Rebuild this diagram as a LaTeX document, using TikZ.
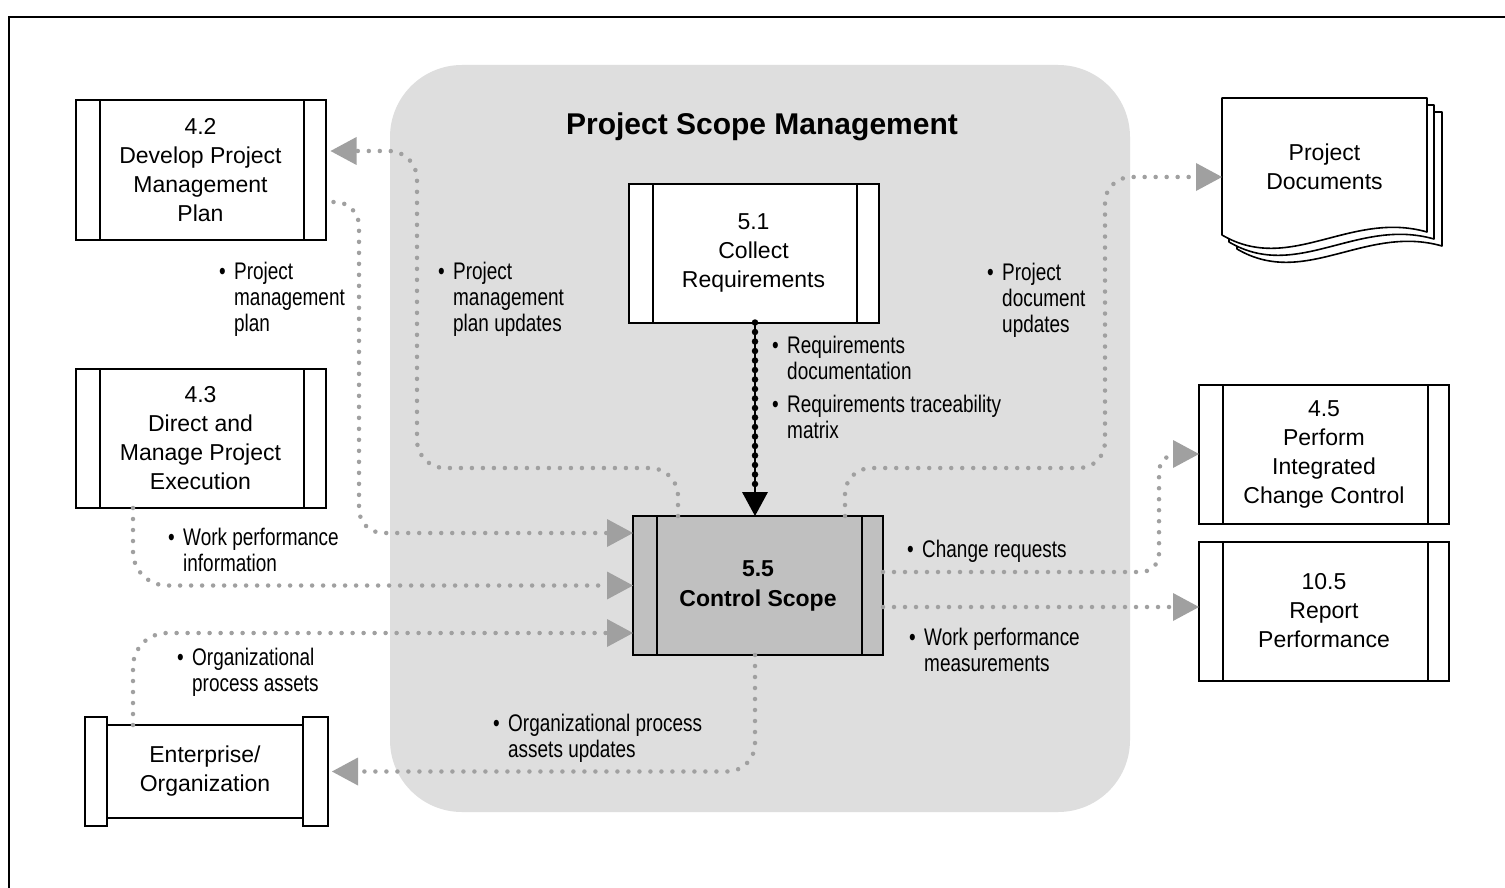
\documentclass[tikz,border=0pt]{standalone}
\usepackage{fontspec}
\setmainfont{Liberation Sans}
\newfontfamily\labelfont[FakeStretch=0.79]{Liberation Sans}
\usetikzlibrary{arrows.meta}

\definecolor{regiongray}{RGB}{222,222,222}
\definecolor{csgray}{RGB}{192,192,192}
\definecolor{dotgray}{RGB}{160,160,160}

% bullet followed by a left-aligned block of lines
\newcommand{\bulletlist}[1]{\makebox[15pt][l]{\textbullet}\begin{tabular}[t]{@{}l@{}}#1\end{tabular}}

\begin{document}
\begin{tikzpicture}[x=1pt,y=-1pt,
  boxfont/.style={font=\fontsize{23}{29}\selectfont},
  proc/.style={draw, line width=2pt, fill=white, minimum width=250pt,
    minimum height=139pt, inner sep=0pt, outer sep=0pt, align=center,
    boxfont,
    path picture={
      \draw[line width=2pt]
        ([xshift=24pt]path picture bounding box.north west) --
        ([xshift=24pt]path picture bounding box.south west);
      \draw[line width=2pt]
        ([xshift=-21.5pt]path picture bounding box.north east) --
        ([xshift=-21.5pt]path picture bounding box.south east);}},
  lbl/.style={anchor=base west, inner sep=0pt,
    font=\labelfont\fontsize{24}{26}\selectfont},
  gdot/.style={draw=dotgray, line width=4.5pt, line cap=round,
    dash pattern=on 0pt off 11pt,
    -{Triangle[length=26pt,width=28pt,line width=0pt]}},
  reqline/.style={draw=black, line width=2.5pt,
    -{Triangle[length=24pt,width=26pt,line width=0pt]},
    postaction={draw=black, line width=6.5pt, dash pattern=on 0pt off 9.5pt,
      line cap=round, shorten >=24pt, -}},
  pageline/.style={draw=black, line width=1.6pt, fill=white, line join=round}
]
\useasboundingbox (0,0) rectangle (1505,888);
\fill[white] (0,0) rectangle (1505,888);

% knowledge-area region
\fill[regiongray, rounded corners=72pt] (390,65) rectangle (1130,812);

% page frame (open to the right and bottom)
\draw[line width=2.5pt] (1512,17) -- (9,17) -- (9,895);

\node[font=\bfseries\fontsize{30}{36}\selectfont, anchor=base, inner sep=0pt]
  (title) at (762,135) {Project Scope Management};

% processes
\node[proc] (pm) at (200.5,170)   {4.2\\Develop Project\\Management\\Plan};
\node[proc] (dm) at (200.5,438.5) {4.3\\Direct and\\Manage Project\\Execution};
\node[proc] (cr) at (753.5,253)   {5.1\\Collect\\Requirements};
\node[proc, fill=csgray, font=\bfseries\fontsize{23}{30}\selectfont]
  (cs) at (758,585.5) {5.5\\Control Scope};
\node[proc] (pi) at (1324,454)    {4.5\\Perform\\Integrated\\Change Control};
\node[proc] (rp) at (1324,611)    {10.5\\Report\\Performance};

% enterprise / organization with end caps
\node[draw, line width=2pt, fill=white, minimum width=196pt, minimum height=93pt,
  inner sep=0pt, outer sep=0pt, align=center, boxfont]
  (ent) at (205,771.5) {Enterprise/\\Organization};
\draw[line width=2pt, fill=white]
  ([xshift=-22pt,yshift=8pt]ent.north west) rectangle ([yshift=-8pt]ent.south west);
\draw[line width=2pt, fill=white]
  ([yshift=8pt]ent.north east) rectangle ([xshift=25pt,yshift=-8pt]ent.south east);

% project documents: stacked pages with wavy bottom
\foreach \dx/\dy in {15/14,7/7,0/0}{
  \draw[pageline] ({1222+\dx},{98+\dy}) -- ({1427+\dx},{98+\dy}) --
    ({1427+\dx},{232+\dy}) .. controls ({1350+\dx},{210+\dy}) and ({1290+\dx},{275+\dy}) ..
    ({1222+\dx},{235+\dy}) -- cycle;
}
\node[minimum width=205pt, minimum height=137pt, inner sep=0pt, outer sep=0pt,
  align=center, boxfont] (pd) at (1324.5,166.5) {Project\\Documents};

% route corners
\coordinate (c1) at (417,468);
\coordinate (c2) at (359,533);
\coordinate (c7) at (1105,468);
\coordinate (c8) at (1159,454);

% flows
\draw[gdot, rounded corners=28pt] ([xshift=-80pt]cs.north) |- (c1)
  |- ([xshift=5pt,yshift=19pt]pm.east);
\draw[gdot, rounded corners=24pt] ([xshift=8pt,yshift=-32pt]pm.east) -| (c2)
  -- (cs.west |- c2);
\draw[gdot, rounded corners=34pt] ([xshift=-67.5pt]dm.south) |- (cs.west);
\draw[gdot, rounded corners=34pt] ([xshift=-72pt]ent.north) |- ([yshift=-47.5pt]cs.west);
\draw[gdot, rounded corners=28pt] ([xshift=-3pt]cs.south) |- ([xshift=29pt]ent.east);
\draw[gdot, rounded corners=26pt] ([xshift=87pt]cs.north) |- (c7)
  |- ([yshift=-10.5pt]pd.west);
\draw[gdot, rounded corners=18pt] ([yshift=13.5pt]cs.east) -| (c8) -- (pi.west);
\draw[gdot] ([yshift=-21.5pt]cs.east) -- ([yshift=4pt]rp.west);
\draw[reqline] ([xshift=1.5pt]cr.south) -- ([xshift=-3pt]cs.north);

% flow labels
\node[lbl] (l1) at (219,279)  {\bulletlist{Project\\management\\plan}};
\node[lbl] (l2) at (438,279)  {\bulletlist{Project\\management\\plan updates}};
\node[lbl] (l3) at (772,353)  {\bulletlist{Requirements\\documentation}};
\node[lbl] (l4) at (772,412)  {\bulletlist{Requirements traceability\\matrix}};
\node[lbl] (l5) at (987,280)  {\bulletlist{Project\\document\\updates}};
\node[lbl] (l6) at (168,545)  {\bulletlist{Work performance\\information}};
\node[lbl] (l7) at (177,665)  {\bulletlist{Organizational\\process assets}};
\node[lbl] (l8) at (493,731)  {\bulletlist{Organizational process\\assets updates}};
\node[lbl] (l9) at (907,557)  {\bulletlist{Change requests}};
\node[lbl] (l10) at (909,645) {\bulletlist{Work performance\\measurements}};
\end{tikzpicture}
\end{document}
